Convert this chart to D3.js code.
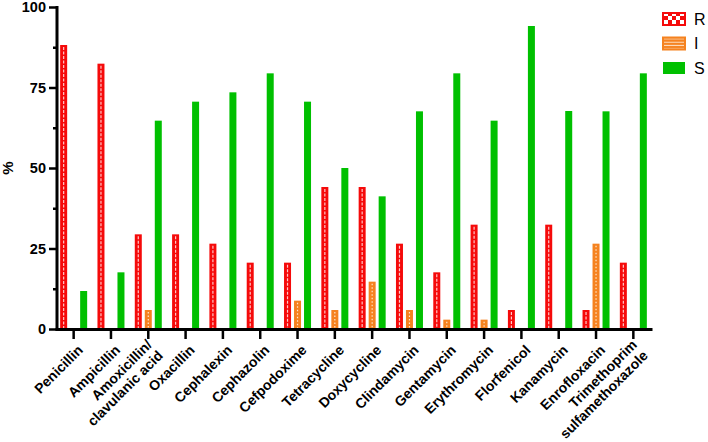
<!DOCTYPE html>
<html>
<head>
<meta charset="utf-8">
<script src="https://cdn.jsdelivr.net/npm/d3@7"></script>
<style>
  body { margin: 0; background: #fff; }
  svg { display: block; font-family: "Liberation Sans", Arial, sans-serif; }
</style>
</head>
<body>
<div id="chart"></div>
<script>
// antibiotic names, "\n" splits a label onto two lines
const drugs = ["Penicillin", "Ampicillin", "Amoxicillin/\nclavulanic acid", "Oxacillin",
  "Cephalexin", "Cephazolin", "Cefpodoxime", "Tetracycline", "Doxycycline", "Clindamycin",
  "Gentamycin", "Erythromycin", "Florfenicol", "Kanamycin", "Enrofloxacin",
  "Trimethoprim\nsulfamethoxazole"];
const series = ["R", "I", "S"];

// percentages
const resistant    = [88.2, 82.4, 29.4, 29.4, 26.5, 20.6, 20.6, 44.1, 44.1, 26.5, 17.6, 32.4, 5.9, 32.4, 5.9, 20.6];
const intermediate = [0, 0, 5.9, 0, 0, 0, 8.8, 5.9, 14.7, 5.9, 2.9, 2.9, 0, 0, 26.5, 0];
const susceptible  = [11.8, 17.6, 64.7, 70.6, 73.5, 79.4, 70.6, 50.0, 41.2, 67.6, 79.4, 64.7, 94.1, 67.7, 67.6, 79.4];
const yTicks = [0, 25, 50, 75, 100];

const colors = { R: "#f50a0a", I: "#f5821f", S: "#00c000" };

const W = 708, H = 442;
const plotLeft = 57, plotRight = 652, plotTop = 7, plotBottom = 329;

const svg = d3.select("#chart").append("svg")
  .attr("width", W).attr("height", H);

const defs = svg.append("defs");
// checkered pattern for R legend
let pr = defs.append("pattern").attr("id", "patR").attr("patternUnits", "userSpaceOnUse")
  .attr("x", 665).attr("y", 15).attr("width", 8).attr("height", 8);
pr.append("rect").attr("width", 8).attr("height", 8).attr("fill", colors.R);
pr.append("rect").attr("x", 0).attr("y", 0).attr("width", 4).attr("height", 4).attr("fill", "#fff");
pr.append("rect").attr("x", 4).attr("y", 4).attr("width", 4).attr("height", 4).attr("fill", "#fff");
// striped pattern for I legend
let pi = defs.append("pattern").attr("id", "patI").attr("patternUnits", "userSpaceOnUse")
  .attr("x", 663).attr("y", 39).attr("width", 6).attr("height", 3.3);
pi.append("rect").attr("width", 6).attr("height", 3.3).attr("fill", colors.I);
pi.append("rect").attr("y", 1.5).attr("width", 6).attr("height", 1).attr("fill", "#fde0c4");

const data = drugs.map((d, i) => ({
  drug: d,
  values: [
    { key: "R", v: resistant[i] },
    { key: "I", v: intermediate[i] },
    { key: "S", v: susceptible[i] }
  ]
}));

const x = d3.scaleBand().domain(drugs).range([plotLeft - 2, plotRight]);
const xs = d3.scaleBand().domain(series).range([-15, 15]).paddingInner(0.3).paddingOuter(0.15);
const y = d3.scaleLinear().domain([0, 100]).range([plotBottom, plotTop]);

// bars
const groups = svg.append("g").selectAll("g").data(data).enter().append("g")
  .attr("transform", d => `translate(${x(d.drug) + x.bandwidth() / 2},0)`);

groups.selectAll("rect").data(d => d.values.filter(v => v.v > 0)).enter().append("rect")
  .attr("x", d => xs(d.key))
  .attr("y", d => y(d.v))
  .attr("width", xs.bandwidth())
  .attr("height", d => y(0) - y(d.v))
  .attr("fill", d => colors[d.key]);

// white hatch lines down the middle of the R and I bars
groups.selectAll("line.hatch").data(d => d.values.filter(v => v.v > 0 && v.key != "S")).enter()
  .append("line").attr("class", "hatch")
  .attr("x1", d => xs(d.key) + xs.bandwidth() / 2)
  .attr("x2", d => xs(d.key) + xs.bandwidth() / 2)
  .attr("y1", d => y(d.v) + 2)
  .attr("y2", y(0))
  .attr("stroke", d => d.key == "R" ? "#ffc8c8" : "#ffe6cc")
  .attr("stroke-width", 1.2)
  .attr("stroke-dasharray", d => d.key == "R" ? "3,1.5" : "1.5,2");

// y axis
const yAxis = svg.append("g").attr("transform", `translate(${plotLeft},0)`)
  .call(d3.axisLeft(y).tickValues(yTicks).tickSize(8).tickPadding(3).tickSizeOuter(0));
svg.append("g").attr("transform", `translate(${plotLeft},0)`)
  .call(d3.axisLeft(y).tickValues(d3.range(12.5, 100, 25)).tickSize(4).tickFormat("").tickSizeOuter(0))
  .select(".domain").remove();
yAxis.selectAll("text").style("font-size", "14.5px").style("font-weight", "bold").attr("fill", "#000");
svg.selectAll(".tick line").attr("stroke", "#000").attr("stroke-width", 2.5);
yAxis.select(".domain").attr("stroke", "#000").attr("stroke-width", 3)
  .attr("d", `M0,${plotTop - 1}V${plotBottom + 1.5}`);

// x axis
const xAxis = svg.append("g").attr("transform", `translate(0,${plotBottom})`)
  .call(d3.axisBottom(x).tickSize(10).tickSizeOuter(0).tickFormat(""));
xAxis.select(".domain").attr("stroke", "#000").attr("stroke-width", 3);
xAxis.selectAll(".tick line").attr("stroke", "#000").attr("stroke-width", 2.5);

// rotated category labels
const labels = svg.append("g").selectAll("text").data(drugs).enter().append("text")
  .attr("transform", d => `translate(${x(d) + x.bandwidth() / 2 + 3},${plotBottom + 15}) rotate(-45)`)
  .attr("text-anchor", "end")
  .style("font-size", "14px")
  .style("font-weight", "bold")
  .attr("fill", "#000");
labels.each(function (d) {
  const lines = d.split("\n");
  const t = d3.select(this);
  lines.forEach((ln, i) => {
    t.append("tspan").attr("x", 0)
      .attr("dy", i == 0 ? (0.71 - (lines.length - 1) * 0.55) + "em" : "1.1em")
      .text(ln);
  });
});

// y title
svg.append("text")
  .attr("transform", `translate(13,${(plotTop + plotBottom) / 2}) rotate(-90)`)
  .attr("text-anchor", "middle")
  .style("font-size", "15px").style("font-weight", "bold")
  .text("%");

// legend
const legend = svg.append("g").selectAll("g").data(series).enter().append("g")
  .attr("transform", (d, i) => `translate(663,${13 + i * 24.5})`);
legend.append("rect")
  .attr("width", 22).attr("height", 12)
  .attr("fill", d => d == "R" ? "url(#patR)" : d == "I" ? "url(#patI)" : colors.S)
  .attr("stroke", d => d == "S" ? "none" : colors[d])
  .attr("stroke-width", 2);
legend.append("text")
  .attr("x", 31).attr("y", 6).attr("dy", "0.36em")
  .style("font-size", "16px")
  .text(d => d);
</script>
</body>
</html>
